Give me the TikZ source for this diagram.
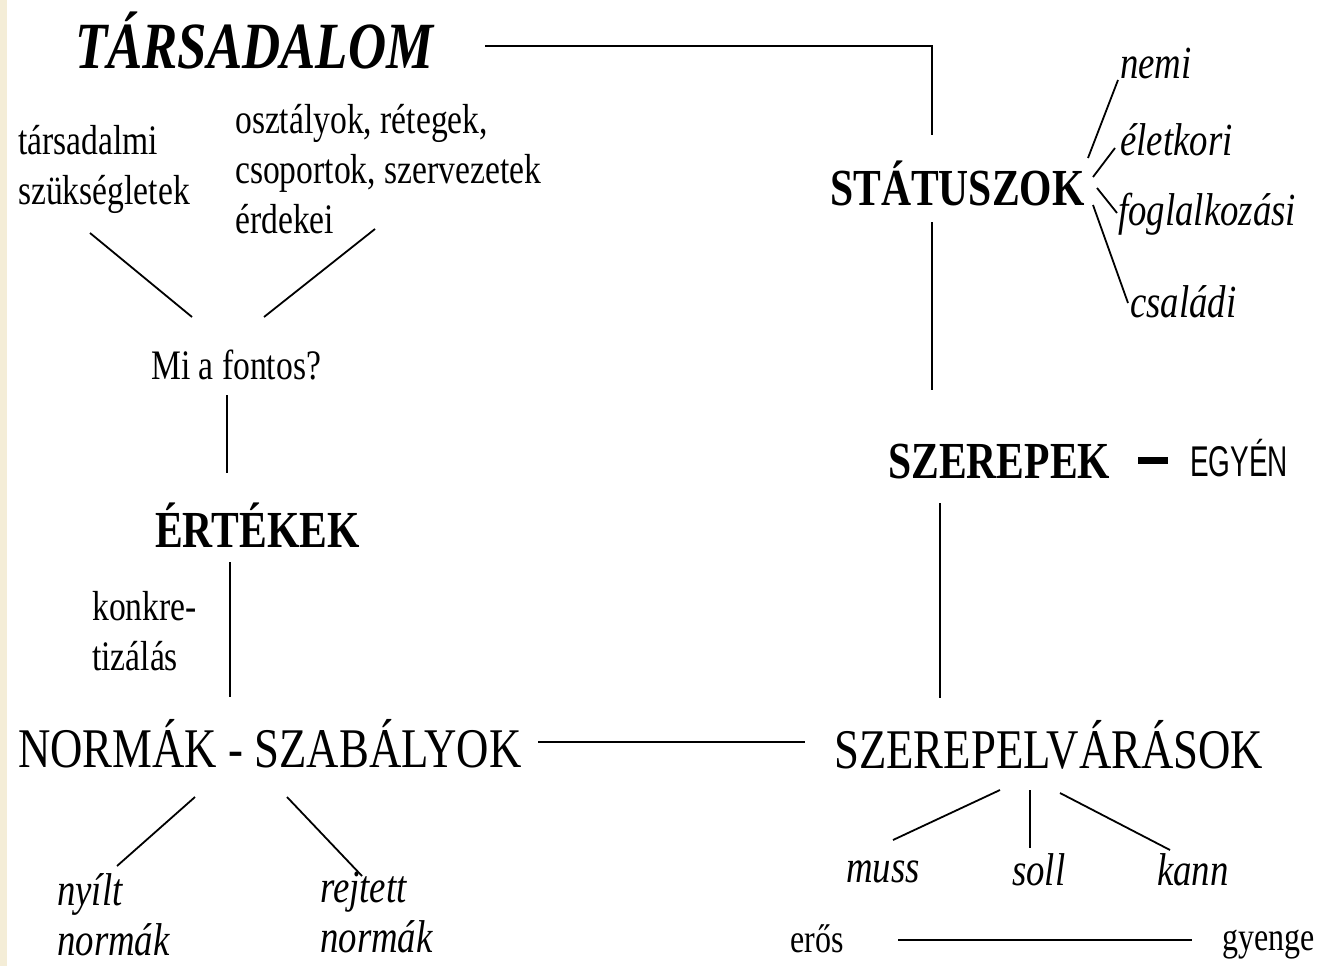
\documentclass[tikz,border=0pt]{standalone}
\usepackage{fontspec}
\usepackage{tikz}
\setmainfont{Liberation Serif}[FakeStretch=0.8]
\newfontfamily\egyenfont{Liberation Sans}[FakeStretch=0.65]
\definecolor{paperedge}{RGB}{244,237,215}

\begin{document}
\begin{tikzpicture}[x=1pt,y=-1pt]
    \tikzstyle{txt}=[inner sep=0pt,font=\fontsize{42}{50}\selectfont]
    \tikzstyle{ital}=[inner sep=0pt,font=\fontsize{46}{50}\selectfont\itshape]
    \tikzstyle{head}=[inner sep=0pt,font=\fontsize{52}{60}\selectfont\bfseries]
    \tikzstyle{big}=[inner sep=0pt,font=\fontsize{56}{60}\selectfont]
    \tikzstyle{link}=[line width=1.8pt]
    \useasboundingbox (0,0) rectangle (1319,966);
    \fill[paperedge] (0,0) rectangle (7,966);

    % left column
    \node (tars)[inner sep=0pt,font=\fontsize{66}{70}\selectfont\bfseries\itshape,anchor=base west] at (75,68) {TÁRSADALOM};
    \node (needs)[txt,align=left,anchor=north west] at (18,125) {társadalmi\\szükségletek};
    \node (groups)[txt,align=left,anchor=north west] at (235,104) {osztályok, rétegek,\\csoportok, szervezetek\\érdekei};
    \node (fontos)[txt,anchor=base west] at (151,379) {Mi a fontos?};
    \node (ertekek)[head,anchor=base west] at (155,547) {ÉRTÉKEK};
    \node (konkret)[txt,align=left,anchor=north west] at (92,591) {konkre-\\tizálás};
    \node (normak)[big,anchor=base west] at (18,767) {NORMÁK - SZABÁLYOK};
    \node (nyilt)[ital,align=left,anchor=north west] at (57,873) {nyílt\\normák};
    \node (rejtett)[ital,align=left,anchor=north west] at (320,872) {rejtett\\normák};

    % right column
    \node (status)[head,anchor=base west] at (830,205) {STÁTUSZOK};
    \node (nemi)[ital,anchor=base west] at (1120,78) {nemi};
    \node (eletkor)[ital,anchor=base west] at (1120,155) {életkori};
    \node (foglal)[ital,anchor=base west] at (1118,225) {foglalkozási};
    \node (csalad)[ital,anchor=base west] at (1130,317) {családi};
    \node (szerepek)[head,anchor=base west] at (888,478) {SZEREPEK};
    \node (egyen)[inner sep=0pt,font=\fontsize{43}{48}\egyenfont,anchor=base west] at (1190,476) {EGYÉN};
    \node (elvar)[big,anchor=base west] at (834,768) {SZEREPELVÁRÁSOK};
    \node (muss)[ital,anchor=base west] at (846,882) {muss};
    \node (soll)[ital,anchor=base west] at (1012,885) {soll};
    \node (kann)[ital,anchor=base west] at (1157,885) {kann};
    \node (eros)[txt,font=\fontsize{40}{48}\selectfont,anchor=base west] at (790,952) {erős};
    \node (gyenge)[txt,font=\fontsize{40}{48}\selectfont,anchor=base west] at (1222,950) {gyenge};

    \draw[link] ([xshift=410pt,yshift=22pt]tars.base west) -| ([xshift=102pt,yshift=70pt]status.base west);
    \draw[link] ([xshift=41pt,yshift=62pt]fontos.base west) -- ([xshift=72pt,yshift=-108pt]needs.north west);
    \draw[link] ([xshift=113pt,yshift=62pt]fontos.base west) -- ([xshift=140pt,yshift=-125pt]groups.north west);
    \draw[link] ([xshift=76pt,yshift=-16pt]fontos.base west) -- ([xshift=72pt,yshift=74pt]ertekek.base west);
    \draw[link] ([xshift=75pt,yshift=-15pt]ertekek.base west) -- ([xshift=212pt,yshift=70pt]normak.base west);
    \draw[link] ([xshift=177pt,yshift=-30pt]normak.base west) -- ([xshift=60pt,yshift=7pt]nyilt.north west);
    \draw[link] ([xshift=269pt,yshift=-30pt]normak.base west) -- ([xshift=42pt,yshift=-4pt]rejtett.north west);
    \draw[link] ([xshift=520pt,yshift=25pt]normak.base west) -- ([xshift=-29pt,yshift=26pt]elvar.base west);

    \draw[link] ([xshift=258pt,yshift=47pt]status.base west) -- ([xshift=-2pt,yshift=-2pt]nemi.base west);
    \draw[link] ([xshift=263pt,yshift=28pt]status.base west) -- ([xshift=-5pt,yshift=7pt]eletkor.base west);
    \draw[link] ([xshift=267pt,yshift=17pt]status.base west) -- ([xshift=-1pt,yshift=12pt]foglal.base west);
    \draw[link] ([xshift=263pt]status.base west) -- ([xshift=-2pt,yshift=14pt]csalad.base west);
    \draw[link] ([xshift=102pt,yshift=-17pt]status.base west) -- ([xshift=44pt,yshift=88pt]szerepek.base west);
    \draw[line width=7pt] ([xshift=250pt,yshift=18pt]szerepek.base west) -- ([xshift=-22pt,yshift=16pt]egyen.base west);
    \draw[link] ([xshift=52pt,yshift=-25pt]szerepek.base west) -- ([xshift=106pt,yshift=70pt]elvar.base west);
    \draw[link] ([xshift=166pt,yshift=-22pt]elvar.base west) -- ([xshift=47pt,yshift=42pt]muss.base west);
    \draw[link] ([xshift=196pt,yshift=-22pt]elvar.base west) -- ([xshift=18pt,yshift=37pt]soll.base west);
    \draw[link] ([xshift=226pt,yshift=-25pt]elvar.base west) -- ([xshift=13pt,yshift=35pt]kann.base west);
    \draw[link] ([xshift=108pt,yshift=12pt]eros.base west) -- ([xshift=-30pt,yshift=10pt]gyenge.base west);
\end{tikzpicture}
\end{document}
